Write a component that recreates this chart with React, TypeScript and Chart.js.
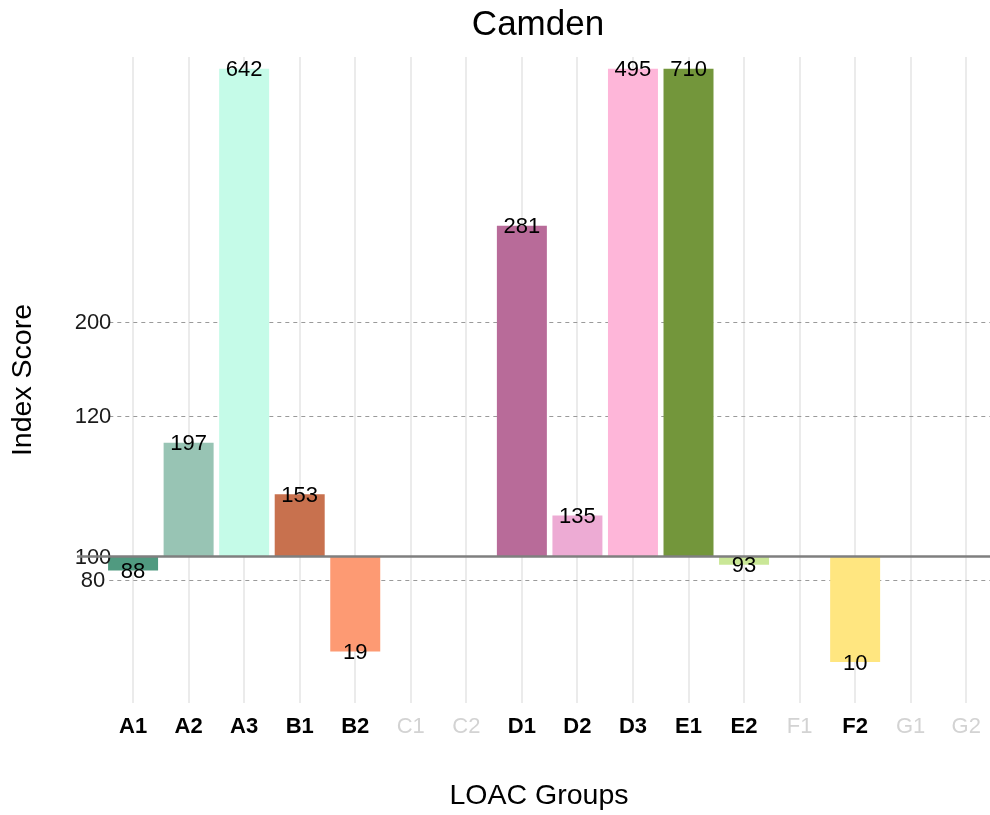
import React, { useEffect, useRef } from "react";
import { Chart, registerables } from "chart.js";

Chart.register(...registerables);

const TITLE = "Camden";
const X_TITLE = "LOAC Groups";
const Y_TITLE = "Index Score";

const groups = ["A1", "A2", "A3", "B1", "B2", "C1", "C2", "D1", "D2", "D3", "E1", "E2", "F1", "F2", "G1", "G2"];
// index score printed on each bar
const indexScores: (number | null)[] = [88, 197, 642, 153, 19, null, null, 281, 135, 495, 710, 93, null, 10, null, null];
// height each bar reaches on the (display) axis
const plottedScores: (number | null)[] = [88, 197, 642, 153, 19, null, null, 382, 135, 595, 710, 93, null, 10, null, null];
const barColors = [
  "#509A80", "#98C4B4", "#C5FBE8", "#C8714E", "#FD9A73", "#CCCCCC", "#CCCCCC",
  "#B86B99", "#EDABD4", "#FEB6D9", "#73963B", "#CAE797", "#CCCCCC", "#FFE680", "#CCCCCC", "#CCCCCC",
];
const BASELINE = 100;
const AXIS_CAP = 516;
const Y_MIN = -25;
const Y_MAX = 526;
const yTickPositions = [80, 100, 220, 300];
const yTickLabels = ["80", "100", "120", "200"];

const FONT = "'Liberation Sans', Arial, Helvetica, sans-serif";

const decorPlugin = {
  id: "decor",
  beforeDatasetsDraw(chart: any) {
    const { ctx, chartArea, scales } = chart;
    const y = scales.y;
    ctx.save();
    ctx.strokeStyle = "#9A9A9A";
    ctx.lineWidth = 1;
    ctx.setLineDash([4, 4]);
    yTickPositions.forEach((v) => {
      if (v === BASELINE) return;
      const py = Math.round(y.getPixelForValue(v)) + 0.5;
      ctx.beginPath();
      ctx.moveTo(chartArea.left + 4, py);
      ctx.lineTo(chart.width, py);
      ctx.stroke();
    });
    ctx.restore();
  },
  afterDatasetsDraw(chart: any) {
    const { ctx, scales } = chart;
    const x = scales.x;
    const y = scales.y;
    ctx.save();
    // y tick labels
    ctx.fillStyle = "#1A1A1A";
    ctx.font = `22px ${FONT}`;
    ctx.textAlign = "center";
    ctx.textBaseline = "middle";
    yTickPositions.forEach((v, i) => {
      ctx.fillText(yTickLabels[i], 93, y.getPixelForValue(v) + 1);
    });
    // baseline
    const by = y.getPixelForValue(BASELINE);
    ctx.strokeStyle = "#7F7F7F";
    ctx.lineWidth = 2.5;
    ctx.beginPath();
    ctx.moveTo(77, by);
    ctx.lineTo(chart.width, by);
    ctx.stroke();
    // bar labels
    ctx.fillStyle = "#000";
    ctx.font = `22px ${FONT}`;
    indexScores.forEach((v, i) => {
      const h = plottedScores[i];
      if (v == null || h == null) return;
      const px = x.getPixelForValue(i);
      const py = y.getPixelForValue(Math.min(h, AXIS_CAP));
      ctx.fillText(String(v), px, py + 1.5);
    });
    // title
    ctx.font = `35px ${FONT}`;
    ctx.textBaseline = "alphabetic";
    ctx.fillText(TITLE, 538, 35);
    // axis titles
    ctx.font = `28.5px ${FONT}`;
    ctx.textBaseline = "middle";
    ctx.fillText(X_TITLE, 539, 796);
    ctx.translate(23, 380);
    ctx.rotate(-Math.PI / 2);
    ctx.fillText(Y_TITLE, 0, 0);
    ctx.restore();
  },
};

export default function App() {
  const ref = useRef<HTMLCanvasElement | null>(null);
  useEffect(() => {
    if (!ref.current) return;
    Chart.defaults.font.family = FONT;
    const chart = new Chart(ref.current, {
      type: "bar",
      data: {
        labels: groups,
        datasets: [
          {
            data: plottedScores.map((v) => (v == null ? null : [BASELINE, Math.min(v, AXIS_CAP)])) as any,
            backgroundColor: barColors,
            borderWidth: 0,
            barPercentage: 0.9,
            categoryPercentage: 1,
          },
        ],
      },
      options: {
        responsive: false,
        maintainAspectRatio: false,
        animation: false,
        layout: { padding: { top: 57, left: 0, right: 0, bottom: 0 } },
        plugins: {
          legend: { display: false },
          title: { display: false },
          tooltip: { enabled: false },
        },
        scales: {
          x: {
            type: "category",
            offset: true,
            grid: { offset: false, color: "#EBEBEB", lineWidth: 2, drawTicks: false },
            border: { display: false },
            ticks: {
              autoSkip: false,
              maxRotation: 0,
              padding: 11,
              color: (c: any) => (indexScores[c.index] == null ? "#D3D3D3" : "#000000"),
              font: (c: any) => ({
                size: 22,
                family: FONT,
                weight: indexScores[c.index] == null ? "normal" : "bold",
              }),
            },
            afterFit: (s: any) => {
              s.height = 112;
            },
          },
          y: {
            min: Y_MIN,
            max: Y_MAX,
            grid: { display: false },
            border: { display: false },
            ticks: { display: false },
            afterBuildTicks: (s: any) => {
              s.ticks = yTickPositions.map((v) => ({ value: v }));
            },
            afterFit: (s: any) => {
              s.width = 105.3;
            },
          },
        },
      },
      plugins: [decorPlugin],
    });
    return () => chart.destroy();
  }, []);
  return (
    <div
      style={{
        position: "fixed",
        left: 0,
        top: 0,
        width: 990,
        height: 815,
        overflow: "hidden",
        background: "#fff",
      }}
    >
      <canvas ref={ref} width={994} height={815} style={{ display: "block", width: 994, height: 815 }} />
    </div>
  );
}
